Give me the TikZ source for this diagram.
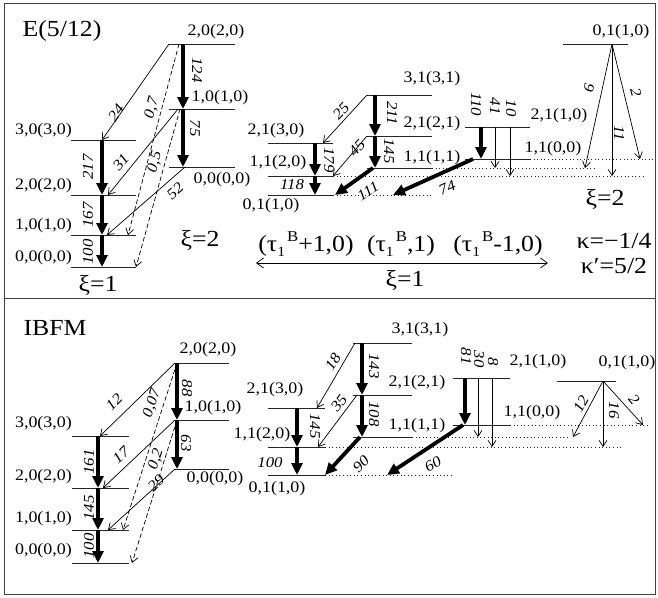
\documentclass[tikz,border=0pt]{standalone}
\usepackage{fontspec}
\setmainfont{Liberation Serif}[FakeStretch=1.12]
\usetikzlibrary{arrows.meta}
\newcommand\tauB{τ\raisebox{-5pt}{\fontsize{14}{14}\selectfont 1}\hspace{2pt}\raisebox{10pt}{\fontsize{15}{15}\selectfont B}}
\begin{document}
\begin{tikzpicture}[x=1pt,y=-1pt,
 lvl/.style={line width=0.9pt,black!85},
 dlvl/.style={line width=0.9pt,black!85,dash pattern=on 1pt off 2.6pt},
 tarr/.style={line width=0.7pt,-{Straight Barb[length=6pt,width=8pt]}},
 darr/.style={tarr,dash pattern=on 4.5pt off 2.5pt},
 karr/.style={line width=3.8pt,-{Triangle[length=12pt,width=11pt]}},
 harr/.style={line width=0.7pt,{Straight Barb[length=7pt,width=10pt]}-{Straight Barb[length=7pt,width=10pt]}},
 lbl/.style={font=\fontsize{16}{17}\selectfont,inner sep=0pt},
 num/.style={font=\fontsize{15}{16}\selectfont\itshape,inner sep=0pt},
 big/.style={font=\fontsize{23}{25}\selectfont,inner sep=0pt}]
\useasboundingbox (0,0) rectangle (658,597);
\draw[line width=0.8pt,black!75] (4,3) rectangle (655,594);
\draw[line width=0.8pt,black!75] (4,298) -- (655,298);

% ================= TOP PANEL =================
\node[big] (ttl1) at (62,31) {E(5/12)};
\coordinate (A20) at (169,44);
\coordinate (A10) at (169,109);
\coordinate (A00) at (169,167);
\coordinate (B30) at (71,140);
\coordinate (B20) at (71,195);
\coordinate (B10) at (71,235);
\coordinate (B00) at (71,267);
\coordinate (C31) at (367,95);
\coordinate (C21) at (367,136);
\coordinate (C11) at (367,168);
\coordinate (E21) at (268,143);
\coordinate (E11) at (268,176);
\coordinate (E01) at (268,195);
\coordinate (D21) at (465,127);
\coordinate (D11) at (465,159);
\coordinate (F01) at (563,44);
\foreach \c in {A20,A10,A00} \draw[lvl] (\c) -- ++(66,0);
\foreach \c in {B30,B20,B10,B00,C31,C21,C11,E21,E11,E01,D21,D11,F01} \draw[lvl] (\c) -- ++(65,0);
\draw[dlvl] ([xshift=65]C11) -- ([xshift=230]C11);
\draw[dlvl] ([xshift=65]E11) -- ([xshift=375]E11);
\draw[dlvl] ([xshift=65]E01) -- ([xshift=164]E01);
\draw[dlvl] ([xshift=65]D11) -- ([xshift=188]D11);

% level labels
\node[lbl] (lA20) at (216,32) {2,0(2,0)};
\node[lbl] (lA10) at (220,98) {1,0(1,0)};
\node[lbl] (lA00) at (222,180) {0,0(0,0)};
\node[lbl,anchor=east] (lB30) at (72,131) {3,0(3,0)};
\node[lbl,anchor=east] (lB20) at (72,186) {2,0(2,0)};
\node[lbl,anchor=east] (lB10) at (72,226) {1,0(1,0)};
\node[lbl,anchor=east] (lB00) at (72,258) {0,0(0,0)};
\node[lbl] (lC31) at (432,79) {3,1(3,1)};
\node[lbl] (lC21) at (432,124) {2,1(2,1)};
\node[lbl] (lC11) at (432,158) {1,1(1,1)};
\node[lbl] (lE21) at (276,131) {2,1(3,0)};
\node[lbl] (lE11) at (278,163) {1,1(2,0)};
\node[lbl] (lE01) at (271,206) {0,1(1,0)};
\node[lbl] (lD21) at (559,116) {2,1(1,0)};
\node[lbl] (lD11) at (553,149) {1,1(0,0)};
\node[lbl] (lF01) at (621,32) {0,1(1,0)};

% arrows left group
\draw[karr] ([xshift=14]A20) -- ([xshift=14]A10);
\draw[karr] ([xshift=14]A10) -- ([xshift=14]A00);
\draw[karr] ([xshift=31]B30) -- ([xshift=31]B20);
\draw[karr] ([xshift=31]B20) -- ([xshift=31]B10);
\draw[karr] ([xshift=31]B10) -- ([xshift=31]B00);
\draw[tarr] (A20) -- ([xshift=31]B30);
\draw[darr] ([xshift=10]A20) -- ([xshift=57]B10);
\draw[tarr] ([xshift=9]A10) -- ([xshift=37]B20);
\draw[darr] ([xshift=11]A10) -- ([xshift=65]B00);
\draw[tarr] ([xshift=16]A00) -- ([xshift=36]B10);
\node[num,rotate=-90] (n124) at (197,70) {124};
\node[num,rotate=-90] (n75) at (195,128) {75};
\node[num,rotate=90] (n217) at (88,167) {217};
\node[num,rotate=90] (n167) at (88,215) {167};
\node[num,rotate=90] (n100) at (88,252) {100};
\node[num,rotate=55] (n24) at (116,113) {24};
\node[num,rotate=75] (n07) at (152,108) {0,7};
\node[num,rotate=50] (n31) at (121,162) {31};
\node[num,rotate=75] (n05) at (155,162) {0,5};
\node[num,rotate=42] (n52) at (175,191) {52};

% arrows middle group
\draw[karr] ([xshift=8]C31) -- ([xshift=8]C21);
\draw[karr] ([xshift=8]C21) -- ([xshift=8]C11);
\draw[karr] ([xshift=47]E21) -- ([xshift=47]E11);
\draw[karr] ([xshift=47]E11) -- ([xshift=47]E01);
\draw[tarr] (C31) -- ([xshift=55]E21);
\draw[tarr] (C21) -- ([xshift=65]E11);
\draw[karr] ([xshift=6]C11) -- ([xshift=67]E01);
\draw[karr] ([xshift=8]D11) -- ([xshift=125]E01);
\draw[karr] ([xshift=16]D21) -- ([xshift=16]D11);
\draw[tarr] ([xshift=30]D21) -- ([xshift=128]C11);
\draw[tarr] ([xshift=45]D21) -- ([xshift=242]E11);
\draw[tarr] ([xshift=49]F01) -- ([xshift=218]C11);
\draw[tarr] ([xshift=49]F01) -- ([xshift=344]E11);
\draw[tarr] ([xshift=49]F01) -- ([xshift=175]D11);
\node[num,rotate=47] (n25) at (341,111) {25};
\node[num,rotate=-90] (n211) at (392,113) {211};
\node[num,rotate=48] (n45) at (357,148) {45};
\node[num,rotate=-90] (n145) at (389,151) {145};
\node[num,rotate=-90] (n179) at (329,160) {179};
\node[num] (n118) at (292,185) {118};
\node[num,rotate=32] (n111) at (368,191) {111};
\node[num,rotate=24] (n74) at (447,188) {74};
\node[num,rotate=-90] (n110) at (476,104) {110};
\node[num,rotate=-90] (n41) at (495,106) {41};
\node[num,rotate=-90] (n10) at (511,108) {10};
\node[num,rotate=-103] (n9) at (589,88) {9};
\node[num,rotate=-76] (n2) at (636,92) {2};
\node[num,rotate=-90] (n11) at (619,133) {11};

\node[big] (xi2a) at (200,240) {ξ=2};
\node[big] (xi1a) at (98,285) {ξ=1};
\node[big] (xi2b) at (605,199) {ξ=2};
\node[big] (t1) at (306,244) {(\tauB+1,0)};
\node[big] (t2) at (401,244) {(\tauB,1)};
\node[big] (t3) at (498,244) {(\tauB-1,0)};
\coordinate (al) at (256,263);
\coordinate (ar) at (548,263);
\draw[harr] (al) -- (ar);
\node[big] (xi1b) at (405,280) {ξ=1};
\node[big] (k1) at (614,241) {κ=−1/4};
\node[big] (k2) at (614,266) {κ′=5/2};

% ================= BOTTOM PANEL =================
\node[big] (ttl2) at (55,328) {IBFM};
\coordinate (a20) at (175,363);
\coordinate (a10) at (175,420);
\coordinate (a00) at (175,469);
\coordinate (b30) at (72,436);
\coordinate (b20) at (72,488);
\coordinate (b10) at (72,530);
\coordinate (b00) at (72,563);
\coordinate (c31) at (353,343);
\coordinate (c21) at (353,395);
\coordinate (c11) at (353,437);
\coordinate (e21) at (268,408);
\coordinate (e11) at (268,447);
\coordinate (e01) at (268,475);
\coordinate (d21) at (453,378);
\coordinate (d11) at (453,425);
\coordinate (f01) at (557,381);
\foreach \c in {a20,a10,a00} \draw[lvl] (\c) -- ++(54,0);
\foreach \c in {b30,b20,b10,b00,e21,e11,e01,d21,d11} \draw[lvl] (\c) -- ++(57,0);
\foreach \c in {c31,c21,c11,f01} \draw[lvl] (\c) -- ++(59,0);
\draw[dlvl] ([xshift=59]c11) -- ([xshift=217]c11);
\draw[dlvl] ([xshift=57]e11) -- ([xshift=355]e11);
\draw[dlvl] ([xshift=57]e01) -- ([xshift=185]e01);
\draw[dlvl] ([xshift=57]d11) -- ([xshift=197]d11);

\node[lbl] (la20) at (208,350) {2,0(2,0)};
\node[lbl] (la10) at (213,408) {1,0(1,0)};
\node[lbl] (la00) at (215,479) {0,0(0,0)};
\node[lbl,anchor=east] (lb30) at (72,424) {3,0(3,0)};
\node[lbl,anchor=east] (lb20) at (72,477) {2,0(2,0)};
\node[lbl,anchor=east] (lb10) at (72,519) {1,0(1,0)};
\node[lbl,anchor=east] (lb00) at (72,551) {0,0(0,0)};
\node[lbl] (lc31) at (420,330) {3,1(3,1)};
\node[lbl] (lc21) at (417,383) {2,1(2,1)};
\node[lbl] (lc11) at (417,426) {1,1(1,1)};
\node[lbl] (le21) at (275,390) {2,1(3,0)};
\node[lbl] (le11) at (262,435) {1,1(2,0)};
\node[lbl] (le01) at (277,489) {0,1(1,0)};
\node[lbl] (ld21) at (538,362) {2,1(1,0)};
\node[lbl] (ld11) at (532,413) {1,1(0,0)};
\node[lbl] (lf01) at (627,363) {0,1(1,0)};

\draw[karr] ([xshift=2]a20) -- ([xshift=2]a10);
\draw[karr] ([xshift=2]a10) -- ([xshift=2]a00);
\draw[karr] ([xshift=26]b30) -- ([xshift=26]b20);
\draw[karr] ([xshift=26]b20) -- ([xshift=26]b10);
\draw[karr] ([xshift=26]b10) -- ([xshift=26]b00);
\draw[tarr] (a20) -- ([xshift=28]b30);
\draw[darr] ([xshift=2]a20) -- ([xshift=51]b10);
\draw[tarr] (a10) -- ([xshift=31]b20);
\draw[darr] ([xshift=2]a10) -- ([xshift=60]b00);
\draw[tarr] (a00) -- ([xshift=36]b10);
\node[num,rotate=-90] (m88) at (187,388) {88};
\node[num,rotate=-90] (m63) at (186,443) {63};
\node[num,rotate=90] (m161) at (89,462) {161};
\node[num,rotate=90] (m145) at (89,508) {145};
\node[num,rotate=90] (m100) at (89,546) {100};
\node[num,rotate=45] (m12) at (114,402) {12};
\node[num,rotate=72] (m007) at (152,403) {0,07};
\node[num,rotate=43] (m17) at (121,455) {17};
\node[num,rotate=72] (m02) at (156,459) {0,2};
\node[num,rotate=42] (m29) at (156,483) {29};

\draw[karr] ([xshift=9]c31) -- ([xshift=9]c21);
\draw[karr] ([xshift=9]c21) -- ([xshift=9]c11);
\draw[karr] ([xshift=29]e21) -- ([xshift=29]e11);
\draw[karr] ([xshift=29]e11) -- ([xshift=29]e01);
\draw[tarr] ([xshift=2]c31) -- ([xshift=49]e21);
\draw[tarr] ([xshift=4]c21) -- ([xshift=50]e11);
\draw[karr] ([xshift=7]c11) -- ([xshift=57]e01);
\draw[karr] ([xshift=10]d11) -- ([xshift=119]e01);
\draw[karr] ([xshift=12]d21) -- ([xshift=12]d11);
\draw[tarr] ([xshift=25]d21) -- ([xshift=125]c11);
\draw[tarr] ([xshift=39]d21) -- ([xshift=224]e11);
\draw[tarr] ([xshift=46]f01) -- ([xshift=220]c11);
\draw[tarr] ([xshift=46]f01) -- ([xshift=335]e11);
\draw[tarr] ([xshift=46]f01) -- ([xshift=190]d11);
\node[num,rotate=-90] (m143) at (374,366) {143};
\node[num,rotate=-90] (m108) at (374,414) {108};
\node[num,rotate=-90] (m145b) at (315,426) {145};
\node[num] (m100b) at (270,463) {100};
\node[num,rotate=58] (m18) at (333,362) {18};
\node[num,rotate=52] (m35) at (339,403) {35};
\node[num,rotate=45] (m90) at (361,464) {90};
\node[num,rotate=30] (m60) at (433,464) {60};
\node[num,rotate=-90] (m81) at (466,356) {81};
\node[num,rotate=-90] (m30) at (479,359) {30};
\node[num,rotate=-90] (m8) at (493,362) {8};
\node[num,rotate=62] (m12b) at (581,404) {12};
\node[num,rotate=-90] (m16) at (614,410) {16};
\node[num,rotate=-50] (m2b) at (634,400) {2};
\end{tikzpicture}
\end{document}
